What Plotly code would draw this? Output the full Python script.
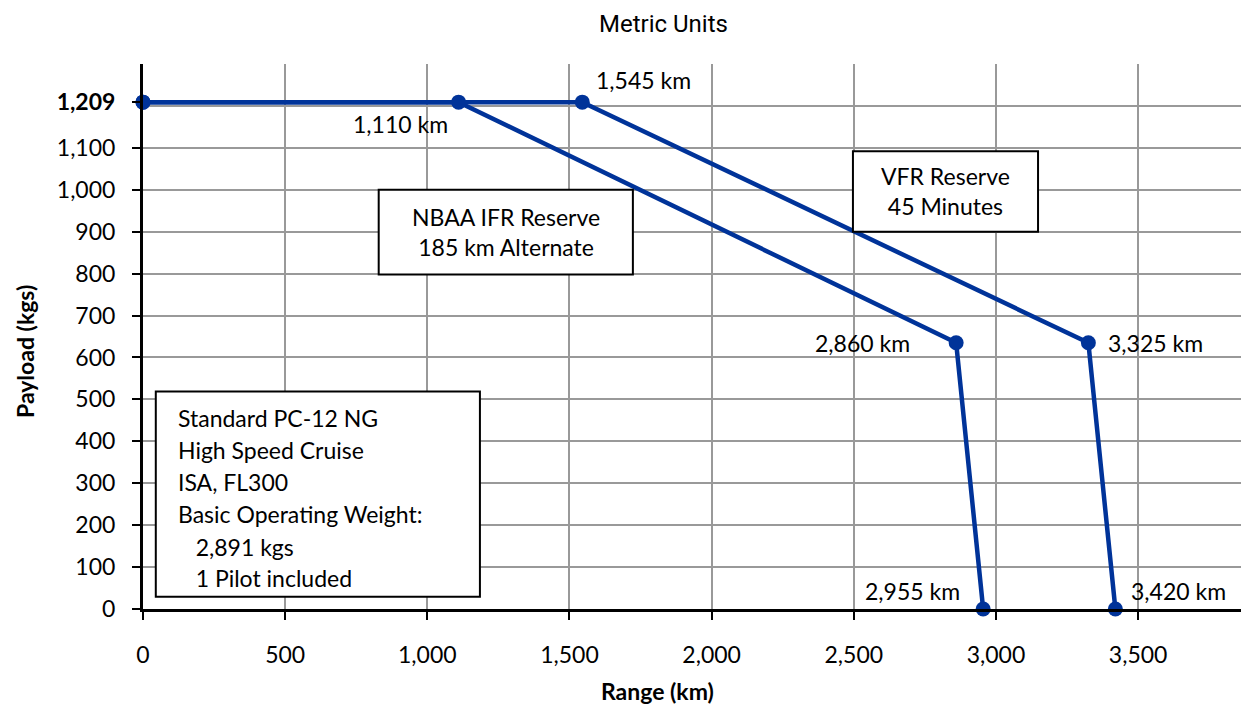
import plotly.graph_objects as go

# Data
nbaa_range = [0, 1110, 2860, 2955]
nbaa_payload = [1209, 1209, 635, 0]
vfr_range = [0, 1545, 3325, 3420]
vfr_payload = [1209, 1209, 635, 0]

x_tickvals = [0, 500, 1000, 1500, 2000, 2500, 3000, 3500]
x_ticktext = ["0", "500", "1,000", "1,500", "2,000", "2,500", "3,000", "3,500"]
y_tickvals = [0, 100, 200, 300, 400, 500, 600, 700, 800, 900, 1000, 1100, 1209]
y_ticktext = ["0", "100", "200", "300", "400", "500", "600", "700", "800", "900",
              "1,000", "1,100", "<b>1,209</b>"]

# (x, y, text, xshift px, yshift px)
point_labels = [
    (1545, 1209, "1,545 km", 61, 22),
    (1110, 1209, "1,110 km", -58, -22),
    (2860, 635, "2,860 km", -94, 0),
    (3325, 635, "3,325 km", 67, 0),
    (2955, 0, "2,955 km", -71, 18),
    (3420, 0, "3,420 km", 63, 18),
]

info_lines = ["Standard PC-12 NG", "High Speed Cruise", "ISA, FL300",
              "Basic Operating Weight:", "&nbsp;&nbsp;&nbsp;2,891 kgs",
              "&nbsp;&nbsp;&nbsp;1 Pilot included"]

FONT = "Lato"
FS = 23
BLUE = "#003399"

fig = go.Figure()
for xs, ys in [(nbaa_range, nbaa_payload), (vfr_range, vfr_payload)]:
    fig.add_trace(go.Scatter(x=xs, y=ys, mode="lines+markers",
                             line=dict(color=BLUE, width=4.5),
                             marker=dict(color=BLUE, size=15),
                             cliponaxis=False, showlegend=False))

for x, y, t, ax, ay in point_labels:
    fig.add_annotation(x=x, y=y, text=t, showarrow=False, xshift=ax, yshift=ay,
                       font=dict(family=FONT, size=FS, color="black"))

# Text boxes (data coordinates)
boxes = [
    (829, 1723, 798, 1000),
    (2497, 3148, 900, 1092),
    (45, 1185, 29, 519),
]
for x0, x1, y0, y1 in boxes:
    fig.add_shape(type="rect", x0=x0, x1=x1, y0=y0, y1=y1, xref="x", yref="y",
                  line=dict(color="black", width=2), fillcolor="white", layer="above")

fig.add_annotation(x=(829 + 1723) / 2, y=(798 + 1000) / 2, text="NBAA IFR Reserve<br>185 km Alternate",
                   showarrow=False, font=dict(family=FONT, size=FS, color="black"), align="center")
fig.add_annotation(x=(2497 + 3148) / 2, y=(900 + 1092) / 2, text="VFR Reserve<br>45 Minutes",
                   showarrow=False, font=dict(family=FONT, size=FS, color="black"), align="center")

line_y = [456, 380, 303, 226, 149, 74]
for t, yy in zip(info_lines, line_y):
    fig.add_annotation(x=115, y=yy, xanchor="left", yanchor="middle", text=t,
                       showarrow=False, font=dict(family=FONT, size=FS, color="black"), align="left")

# Titles
fig.add_annotation(xref="paper", yref="paper", x=0.471, y=1.0, yshift=55, yanchor="top",
                   text="Metric Units", showarrow=False, borderpad=0,
                   font=dict(family="Roboto", size=24, color="black"))
fig.add_annotation(xref="paper", yref="paper", x=0.465, y=0, yshift=-82, yanchor="middle",
                   text="<b>Range (km)</b>", showarrow=False,
                   font=dict(family=FONT, size=FS, color="black"))
fig.add_annotation(xref="paper", yref="paper", x=0, y=0.4716, xshift=-118, xanchor="center",
                   text="<b>Payload (kgs)</b>", textangle=-90, showarrow=False,
                   font=dict(family=FONT, size=FS, color="black"))

fig.update_layout(
    width=1241, height=700,
    margin=dict(l=135, r=0, t=56, b=99),
    plot_bgcolor="white", paper_bgcolor="white",
    font=dict(family=FONT, size=FS, color="black"),
    xaxis=dict(range=[0, 3890], tickvals=x_tickvals, ticktext=x_ticktext,
               showgrid=True, gridcolor="#999999", gridwidth=2,
               showline=True, linecolor="black", linewidth=3,
               ticks="outside", ticklen=8, tickwidth=2, tickcolor="black",
               ticklabelstandoff=15, zeroline=False),
    yaxis=dict(range=[0, 1300], tickvals=y_tickvals, ticktext=y_ticktext,
               showgrid=False,
               minor=dict(tick0=0, dtick=100, showgrid=True, gridcolor="#999999", gridwidth=2, ticks=""),
               showline=True, linecolor="black", linewidth=3,
               ticks="outside", ticklen=8, tickwidth=2, tickcolor="black",
               ticklabelstandoff=12, zeroline=False),
)

fig.write_html("out.html")
